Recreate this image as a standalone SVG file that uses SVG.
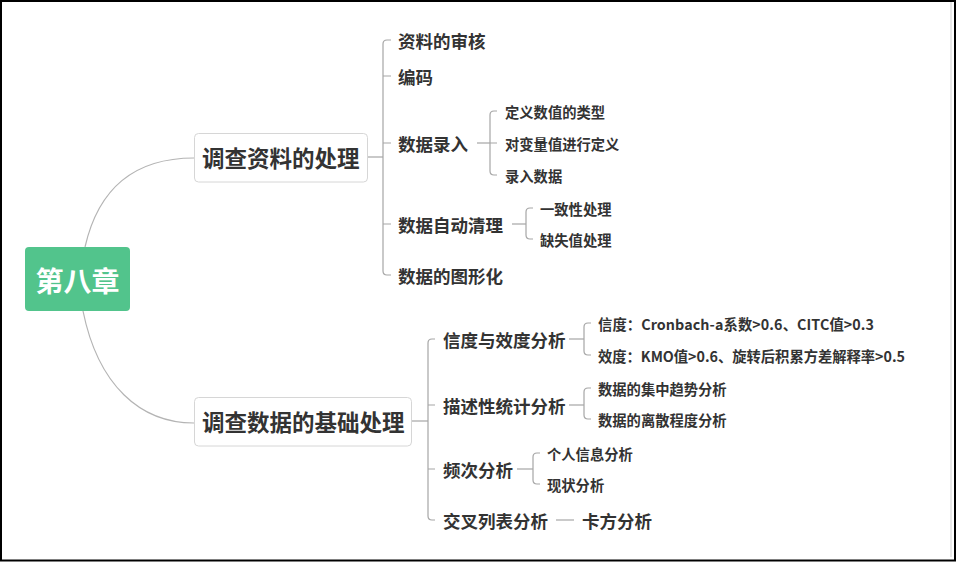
<svg xmlns="http://www.w3.org/2000/svg" width="957" height="563" viewBox="0 0 957 563">
<style>
  text { font-family: "Noto Sans CJK SC", "Noto Sans", sans-serif; font-weight: bold; fill: #333333; dominant-baseline: central; }
  .root { font-size: 28px; fill: #ffffff; text-anchor: middle; }
  .l1 { font-size: 22.5px; }
  .l2 { font-size: 17.5px; }
  .l3 { font-size: 14.3px; }
  .box { fill: #ffffff; stroke: #d6d6d6; stroke-width: 1; }
  .curve { fill: none; stroke: #b4b4b4; stroke-width: 1.2; }
  .line { fill: none; stroke: #a6a6a6; stroke-width: 1.2; }
</style>
<rect x="0" y="0" width="957" height="563" fill="#ffffff"/>
<rect x="1" y="1" width="954" height="559.5" fill="none" stroke="#000000" stroke-width="2"/>
<line x1="951" y1="2" x2="951" y2="557" stroke="#e0e0e0" stroke-width="1.5"/>

<g id="connectors">
  <path class="curve" d="M85,247 C98,190 132,158 194,158"/>
  <path class="curve" d="M83,311 C98,385 140,423 194,423"/>
  <!-- upper bracket -->
  <path class="line" d="M368,157 H383"/>
  <path class="line" d="M391,40 H387 Q383,40 383,44 V271 Q383,275 387,275 H391"/>
  <path class="line" d="M383,76 H391 M383,143 H391 M383,224 H391"/>
  <!-- 数据录入 -->
  <path class="line" d="M477,143 H490"/>
  <path class="line" d="M497,111 H494 Q490,111 490,115 V171 Q490,175 494,175 H497 M490,143 H497"/>
  <!-- 数据自动清理 -->
  <path class="line" d="M512,224 H526"/>
  <path class="line" d="M533,208 H530 Q526,208 526,212 V235 Q526,239 530,239 H533"/>
  <!-- lower bracket -->
  <path class="line" d="M412,421 H428"/>
  <path class="line" d="M435,339 H432 Q428,339 428,343 V516 Q428,520 432,520 H435"/>
  <path class="line" d="M428,405 H435 M428,469 H435"/>
  <!-- 信度与效度分析 -->
  <path class="line" d="M569,339 H584"/>
  <path class="line" d="M591,323 H588 Q584,323 584,327 V351 Q584,355 588,355 H591"/>
  <!-- 描述性统计分析 -->
  <path class="line" d="M569,405 H584"/>
  <path class="line" d="M591,388 H588 Q584,388 584,392 V415 Q584,419 588,419 H591"/>
  <!-- 频次分析 -->
  <path class="line" d="M517,469 H533"/>
  <path class="line" d="M540,453 H537 Q533,453 533,457 V480 Q533,484 537,484 H540"/>
  <!-- 交叉列表分析 -->
  <path class="line" d="M556,520 H574"/>
</g>

<g id="root">
  <rect x="25" y="247" width="105" height="64" rx="4" fill="#52c48c"/>
  <text class="root" x="77.5" y="280">第八章</text>
</g>

<g id="n1">
  <rect class="box" x="194.5" y="133.5" width="173" height="48.5" rx="4"/>
  <text class="l1" x="202" y="157">调查资料的处理</text>
</g>
<g id="n2">
  <rect class="box" x="194.5" y="397.5" width="217" height="48.5" rx="4"/>
  <text class="l1" x="202" y="421">调查数据的基础处理</text>
</g>

<g id="n1-1"><text class="l2" x="398" y="40">资料的审核</text></g>
<g id="n1-2"><text class="l2" x="398" y="76">编码</text></g>
<g id="n1-3"><text class="l2" x="398" y="143">数据录入</text></g>
<g id="n1-3-1"><text class="l3" x="505" y="111">定义数值的类型</text></g>
<g id="n1-3-2"><text class="l3" x="505" y="143">对变量值进行定义</text></g>
<g id="n1-3-3"><text class="l3" x="505" y="175">录入数据</text></g>
<g id="n1-4"><text class="l2" x="398" y="224">数据自动清理</text></g>
<g id="n1-4-1"><text class="l3" x="540" y="208">一致性处理</text></g>
<g id="n1-4-2"><text class="l3" x="540" y="239">缺失值处理</text></g>
<g id="n1-5"><text class="l2" x="398" y="275">数据的图形化</text></g>

<g id="n2-1"><text class="l2" x="443" y="339">信度与效度分析</text></g>
<g id="n2-1-1"><text class="l3" x="598" y="323" textLength="276" lengthAdjust="spacing">信度：Cronbach-a系数&gt;0.6、CITC值&gt;0.3</text></g>
<g id="n2-1-2"><text class="l3" x="598" y="355" textLength="307" lengthAdjust="spacing">效度：KMO值&gt;0.6、旋转后积累方差解释率&gt;0.5</text></g>
<g id="n2-2"><text class="l2" x="443" y="405">描述性统计分析</text></g>
<g id="n2-2-1"><text class="l3" x="598" y="388">数据的集中趋势分析</text></g>
<g id="n2-2-2"><text class="l3" x="598" y="419">数据的离散程度分析</text></g>
<g id="n2-3"><text class="l2" x="443" y="469">频次分析</text></g>
<g id="n2-3-1"><text class="l3" x="547" y="453">个人信息分析</text></g>
<g id="n2-3-2"><text class="l3" x="547" y="484">现状分析</text></g>
<g id="n2-4"><text class="l2" x="443" y="520">交叉列表分析</text></g>
<g id="n2-4-1"><text class="l2" x="582" y="520">卡方分析</text></g>
</svg>
